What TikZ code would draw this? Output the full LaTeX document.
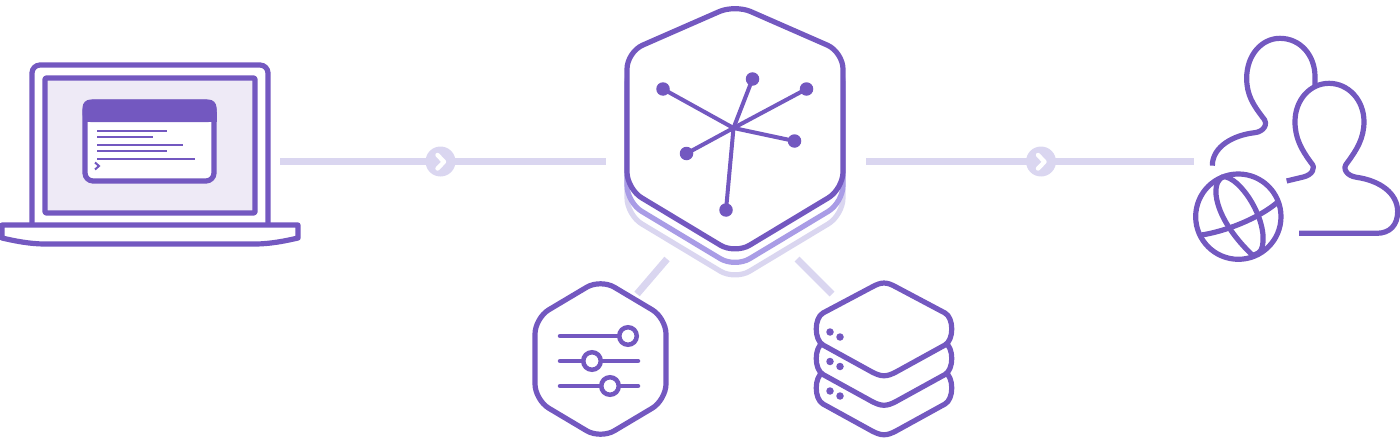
\documentclass[tikz,border=0pt]{standalone}
\definecolor{vio}{HTML}{7358C0}
\definecolor{mid}{HTML}{A99CE6}
\definecolor{pale}{HTML}{DAD6F0}
\definecolor{scr}{HTML}{EEEAF6}
\tikzset{
  x=1pt,y=-1pt,
  ico/.style={draw=vio,line width=5.2pt,line join=round},
  thin ico/.style={draw=vio,line width=2pt},
  bar/.style={draw=pale,line width=7.8pt},
  chev/.style={draw=white,line width=4.4pt,line cap=round,line join=round},
  dot/.style={circle,fill=vio,inner sep=0pt,minimum size=#1},
  knob/.style={circle,draw=vio,line width=4.5pt,fill=white,minimum size=17.5pt,inner sep=0pt},
}
\newcommand{\bighex}{(735,4.7) -- (843,52) -- (843,189) -- (735,254) -- (627,189) -- (627,52) -- cycle}
\newcommand{\rhomb}{(-12,-42) -- (-61,-16) .. controls (-70,-11) and (-70,11) .. (-61,16) -- (-12,43) .. controls (-2.5,48) and (2.5,48) .. (12,43) -- (61,16) .. controls (70,11) and (70,-11) .. (61,-16) -- (12,-42) .. controls (2.5,-47.3) and (-2.5,-47.3) .. (-12,-42) -- cycle}
\begin{document}
\begin{tikzpicture}
\useasboundingbox (0,0) rectangle (1400,444);
% connectors
\coordinate (lapR) at (280,161.5);
\coordinate (hubL) at (606,161.5);
\coordinate (hubR) at (866,161.5);
\coordinate (usrL) at (1194,161.5);
\coordinate (hubSW) at (667,259);
\coordinate (setNE) at (637,294);
\coordinate (hubSE) at (797,259);
\coordinate (dbNW) at (832,294);
\draw[bar] (lapR) -- (hubL);
\draw[bar] (hubR) -- (usrL);
\draw[draw=pale,line width=7pt] (hubSW) -- (setNE);
\draw[draw=pale,line width=7pt] (hubSE) -- (dbNW);
\node[dot=30pt,fill=pale] (c1) at (440.5,161.5) {};
\node[dot=30pt,fill=pale] (c2) at (1041,161.5) {};
\draw[chev] (437.5,155) -- (444,161.8) -- (437.5,168.5);
\draw[chev] (1038,155) -- (1044.5,161.8) -- (1038,168.5);
% laptop
\draw[ico,rounded corners=8pt] (32,225) -- (32,65) -- (268,65) -- (268,225);
\draw[ico,fill=scr,rounded corners=1pt] (45,78) rectangle (255,213);
\draw[ico,fill=white,rounded corners=8pt] (85,102) rectangle (214,181);
\fill[vio,rounded corners=8pt] (82.5,122) -- (82.5,99.5) -- (216.5,99.5) -- (216.5,122) -- cycle;
\fill[vio] (82.5,112) rectangle (216.5,122);
\draw[thin ico] (97,131) -- (167,131);
\draw[thin ico] (97,137) -- (153,137);
\draw[thin ico] (97,145) -- (183,145);
\draw[thin ico] (97,151) -- (167,151);
\draw[thin ico] (97,159) -- (195,159);
\draw[thin ico] (95,162.5) -- (99,166) -- (95,169.5);
\draw[ico] (2,225) -- (298,225) -- (298,238) .. controls (285,241) and (270,244) .. (255,244) -- (45,244) .. controls (30,244) and (15,241) .. (2,238) -- cycle;
% central hub
\begin{scope}[yshift=-26pt]
\draw[ico,draw=pale,fill=white,rounded corners=17pt] \bighex;
\end{scope}
\begin{scope}[yshift=-13.5pt]
\draw[ico,draw=mid,fill=white,rounded corners=17pt] \bighex;
\end{scope}
\draw[ico,fill=white,rounded corners=17pt] \bighex;
\coordinate (hub) at (733.5,128);
\foreach \n/\px/\py in {a/663/89,b/752.5/79,c/806.5/89,d/794.5/141,e/686.5/153.5,f/726/210}{
  \node[dot=13.5pt] (\n) at (\px,\py) {};
  \draw[draw=vio,line width=4pt] (hub) -- (\n.center);
}
% settings
\draw[ico,fill=white,rounded corners=16pt] (600.5,279) -- (666,318) -- (666,400) -- (600.5,439) -- (535,400) -- (535,318) -- cycle;
\begin{scope}[line cap=round,draw=vio,line width=4.5pt]
\draw (560,336) -- (628,336);
\draw (560,361) -- (638,361);
\draw (560,386) -- (638,386);
\end{scope}
\node[knob] (k1) at (628,336) {};
\node[knob] (k2) at (592,361) {};
\node[knob] (k3) at (610,386) {};
% storage stack
\foreach \dy in {59,29.5,0}{
\begin{scope}[shift={(884,329+\dy)}]
\draw[ico,fill=white] \rhomb;
\node[dot=7.5pt] at (-54,3) {};
\node[dot=7.5pt] at (-44,8) {};
\end{scope}
}
% users and globe
\begin{scope}[shift={(1180,20)},x=0.3333pt,y=-0.3333pt]
\draw[ico] (97,437) .. controls (97,380) and (160,345) .. (225,338) .. controls (250,335) and (268,312) .. (248,292) .. controls (220,255) and (200,225) .. (200,175) .. controls (200,105) and (245,55) .. (300,55) .. controls (360,55) and (405,105) .. (405,170) -- (405,195);
\draw[ico] (320,483) -- (370,471) .. controls (395,465) and (410,445) .. (393,428) .. controls (365,390) and (345,355) .. (345,305) .. controls (345,240) and (390,190) .. (447,190) .. controls (505,190) and (552,240) .. (552,305) .. controls (552,355) and (530,390) .. (502,428) .. controls (485,445) and (500,468) .. (530,472) .. controls (600,482) and (653,520) .. (653,575) .. controls (653,615) and (630,640) .. (590,640) -- (357,640);
\draw[ico] (175,590) circle[radius=128];
\draw[ico] (130,470) .. controls (85,490) and (105,600) .. (218,706);
\draw[ico] (130,470) .. controls (180,470) and (265,600) .. (247,680) .. controls (243,697) and (232,702) .. (218,706);
\draw[ico] (65,645) .. controls (130,635) and (230,600) .. (295,545);
\end{scope}
\end{tikzpicture}
\end{document}
